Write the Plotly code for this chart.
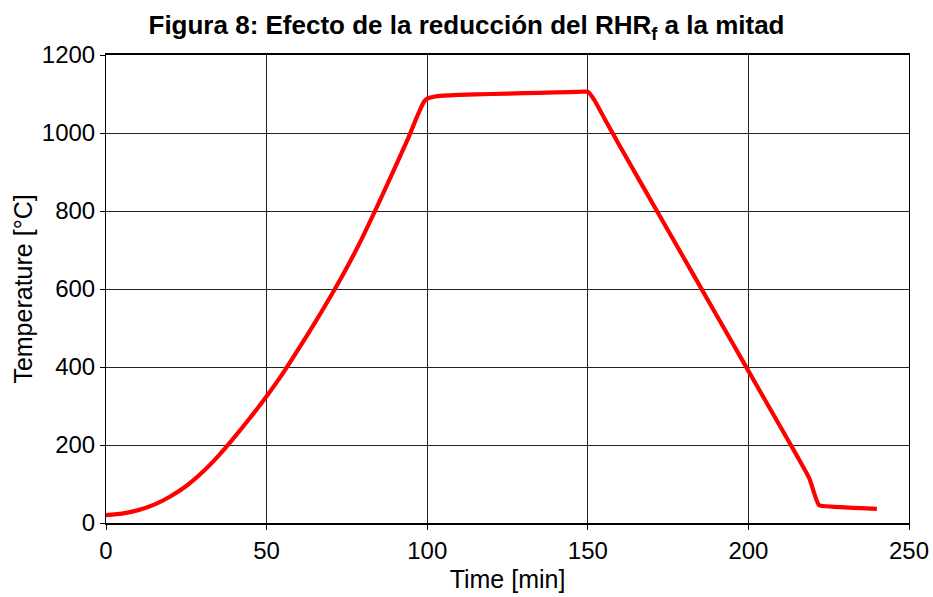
import plotly.graph_objects as go

time_min = [0, 5, 10, 15, 20, 25, 30, 35, 40, 45, 50, 55, 60, 65, 70, 75, 80, 85, 90, 94, 97, 99, 100,
            102, 105, 110, 120, 130, 140, 149, 150,
            152, 155, 160, 165, 170, 175, 180, 185, 190, 195, 200, 205, 210, 215, 219, 222,
            226, 230, 235, 240]
temperature_c = [20, 24, 33, 47, 68, 95, 130, 172, 220, 271, 325, 383, 447, 513, 582, 655, 735, 822, 912, 985, 1045, 1080, 1088,
                 1093, 1096, 1098, 1100, 1102, 1104, 1106, 1106,
                 1085, 1040, 966, 894, 822, 750, 678, 606, 534, 462, 390, 318, 246, 174, 114, 46,
                 42, 40, 38, 36]

x_ticks = [0, 50, 100, 150, 200, 250]
y_ticks = [0, 200, 400, 600, 800, 1000, 1200]

font_family = "Liberation Sans, Arial, sans-serif"

fig = go.Figure()
fig.add_trace(go.Scatter(
    x=time_min, y=temperature_c, mode="lines",
    line=dict(color="#ff0000", width=4.2, shape="spline", smoothing=0.5),
    showlegend=False,
))

fig.update_layout(
    width=933, height=597,
    margin=dict(l=106, r=24, t=55, b=74),
    paper_bgcolor="white", plot_bgcolor="white",
    font=dict(family=font_family, size=24, color="black"),
    title=dict(
        text="<b>Figura 8: Efecto de la reducción del RHR<sub>f</sub> a la mitad</b>",
        x=0.5, xanchor="center", y=0.958, yanchor="middle",
        font=dict(family=font_family, size=26, color="black"),
    ),
)

fig.update_xaxes(
    range=[0, 250], tickvals=x_ticks, ticktext=[str(v) for v in x_ticks],
    showgrid=True, gridcolor="#222222", gridwidth=1,
    showline=True, linecolor="black", linewidth=2, mirror=True,
    ticks="outside", ticklen=5, tickcolor="black",
    zeroline=False, automargin=False,
    title=dict(text="Time [min]", font=dict(size=25), standoff=8),
    tickfont=dict(size=24),
)
fig.update_yaxes(
    range=[0, 1200], tickvals=y_ticks, ticktext=[str(v) for v in y_ticks],
    showgrid=True, gridcolor="#222222", gridwidth=1,
    showline=True, linecolor="black", linewidth=1, mirror=True,
    ticks="outside", ticklen=5, tickcolor="black",
    zeroline=False, automargin=False,
    title=dict(text="Temperature [°C]", font=dict(size=25), standoff=2),
    tickfont=dict(size=24),
)

fig.write_html("out.html")
